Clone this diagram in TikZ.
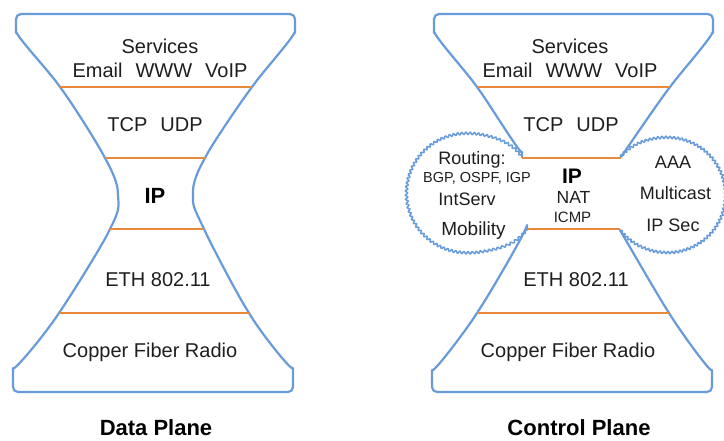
\documentclass[tikz,border=0pt]{standalone}
\usepackage{fontspec}
\setmainfont{Liberation Sans}
\definecolor{hgblue}{RGB}{104,155,218}
\definecolor{hgorange}{RGB}{232,138,60}
\definecolor{hgtext}{RGB}{30,30,30}
\begin{document}
\begin{tikzpicture}[x=1pt,y=-1pt,
  outline/.style={draw=hgblue, line width=2.2pt, line join=round, line cap=round},
  layer/.style={draw=hgorange, line width=2pt},
  cloudline/.style={draw=hgblue, line width=1.5pt, line join=round, line cap=round},
  txt/.style={anchor=base, inner sep=0pt, text=hgtext, font=\fontsize{20}{24}\selectfont},
  ctxt/.style={anchor=base, inner sep=0pt, text=hgtext, font=\fontsize{18}{22}\selectfont},
  small/.style={anchor=base, inner sep=0pt, text=hgtext, font=\fontsize{14.5}{17}\selectfont},
  bold/.style={anchor=base, inner sep=0pt, text=black, font=\fontsize{22}{26}\selectfont\bfseries},
  declare function={
    lrad(\u)=59.5+7*exp(0-(\u/30)^2)+11*exp(0-((\u-296)/30)^2)+1.2*sin(90*mod(\u,4));
    rrad(\u)=57.5+3.4*exp(0-(\u/30)^2)+1.6*exp(0-((\u-284)/30)^2)+1.2*sin(90*mod(\u,4));
  }
]
\useasboundingbox (0,0) rectangle (724,440);

% ---------- Data plane ----------
\draw[outline, rounded corners=5pt]
  (16,36) -- (16,14) -- (295,14) -- (295,36)
  -- plot[smooth, tension=0.55] coordinates {(295,36) (252,87) (205,158) (193,195) (204,229) (249,313) (293,373)}
  -- (293,392) -- (13,392) -- (13,373)
  -- plot[smooth, tension=0.55] coordinates {(13,373) (59,313) (110,229) (118,195) (105,158) (60,87) (16,36)}
  -- cycle;
\draw[layer] (60,87) -- (252,87);
\draw[layer] (105,158) -- (205,158);
\draw[layer] (110,229) -- (204,229);
\draw[layer] (59,313) -- (249,313);

\node[txt] (dsvc) at (160,53) {Services};
\node[txt] (dapp) at (160,77) {Email\hspace{13pt}WWW\hspace{13pt}VoIP};
\node[txt] (dtcp) at (155,131) {TCP\hspace{13pt}UDP};
\node[bold] (dip) at (155,203) {IP};
\node[txt] (deth) at (158,286) {ETH 802.11};
\node[txt] (dphy) at (150,357) {Copper Fiber Radio};
\node[bold] (dtitle) at (156,435) {Data Plane};

% ---------- Control plane ----------
\draw[outline, rounded corners=5pt]
  (522,157) -- plot[smooth, tension=0.5] coordinates {(522,157) (477,87) (434,36)}
  -- (434,14) -- (713,14) -- (713,36)
  -- plot[smooth, tension=0.5] coordinates {(713,36) (670,87) (621,157)};
\draw[outline, rounded corners=5pt]
  (527,230) -- plot[smooth, tension=0.5] coordinates {(527,230) (477,313) (432,375)}
  -- (432,392) -- (712,392) -- (712,375)
  -- plot[smooth, tension=0.5] coordinates {(712,375) (669,313) (620,230)};
\draw[layer] (477,87) -- (670,87);
\draw[layer] (522,158) -- (621,158);
\draw[layer] (527,229) -- (620,229);
\draw[layer] (477,313) -- (669,313);

% clouds (scalloped edges)
\draw[cloudline] plot[domain=0:296, samples=600, variable=\t]
  ({466+lrad(\t)*cos(-33-\t)}, {193+lrad(\t)*sin(-33-\t)});
\draw[cloudline] plot[domain=0:284, samples=580, variable=\t]
  ({668+rrad(\t)*cos(-141+\t)}, {195+rrad(\t)*sin(-141+\t)});

\node[txt] (csvc) at (570,53) {Services};
\node[txt] (capp) at (570,77) {Email\hspace{13pt}WWW\hspace{13pt}VoIP};
\node[txt] (ctcp) at (571,131) {TCP\hspace{13pt}UDP};
\node[bold, font=\fontsize{21}{25}\selectfont\bfseries] (cip) at (572,183) {IP};
\node[ctxt, font=\fontsize{17.5}{21}\selectfont] (cnat) at (573.5,203) {NAT};
\node[ctxt, font=\fontsize{15}{18}\selectfont] (cicmp) at (572.5,222) {ICMP};

\node[ctxt] (rout) at (472,164) {Routing:};
\node[small] (bgp) at (477,182) {BGP, OSPF, IGP};
\node[ctxt] (ints) at (467,205) {IntServ};
\node[ctxt, font=\fontsize{19}{22}\selectfont] (mob) at (473.5,235) {Mobility};

\node[ctxt] (aaa) at (673,168) {AAA};
\node[ctxt] (mcast) at (675.5,199) {Multicast};
\node[ctxt] (ipsec) at (673,231) {IP Sec};

\node[txt] (ceth) at (576,286) {ETH 802.11};
\node[txt] (cphy) at (568,357) {Copper Fiber Radio};
\node[bold] (ctitle) at (579,435) {Control Plane};
\end{tikzpicture}
\end{document}
